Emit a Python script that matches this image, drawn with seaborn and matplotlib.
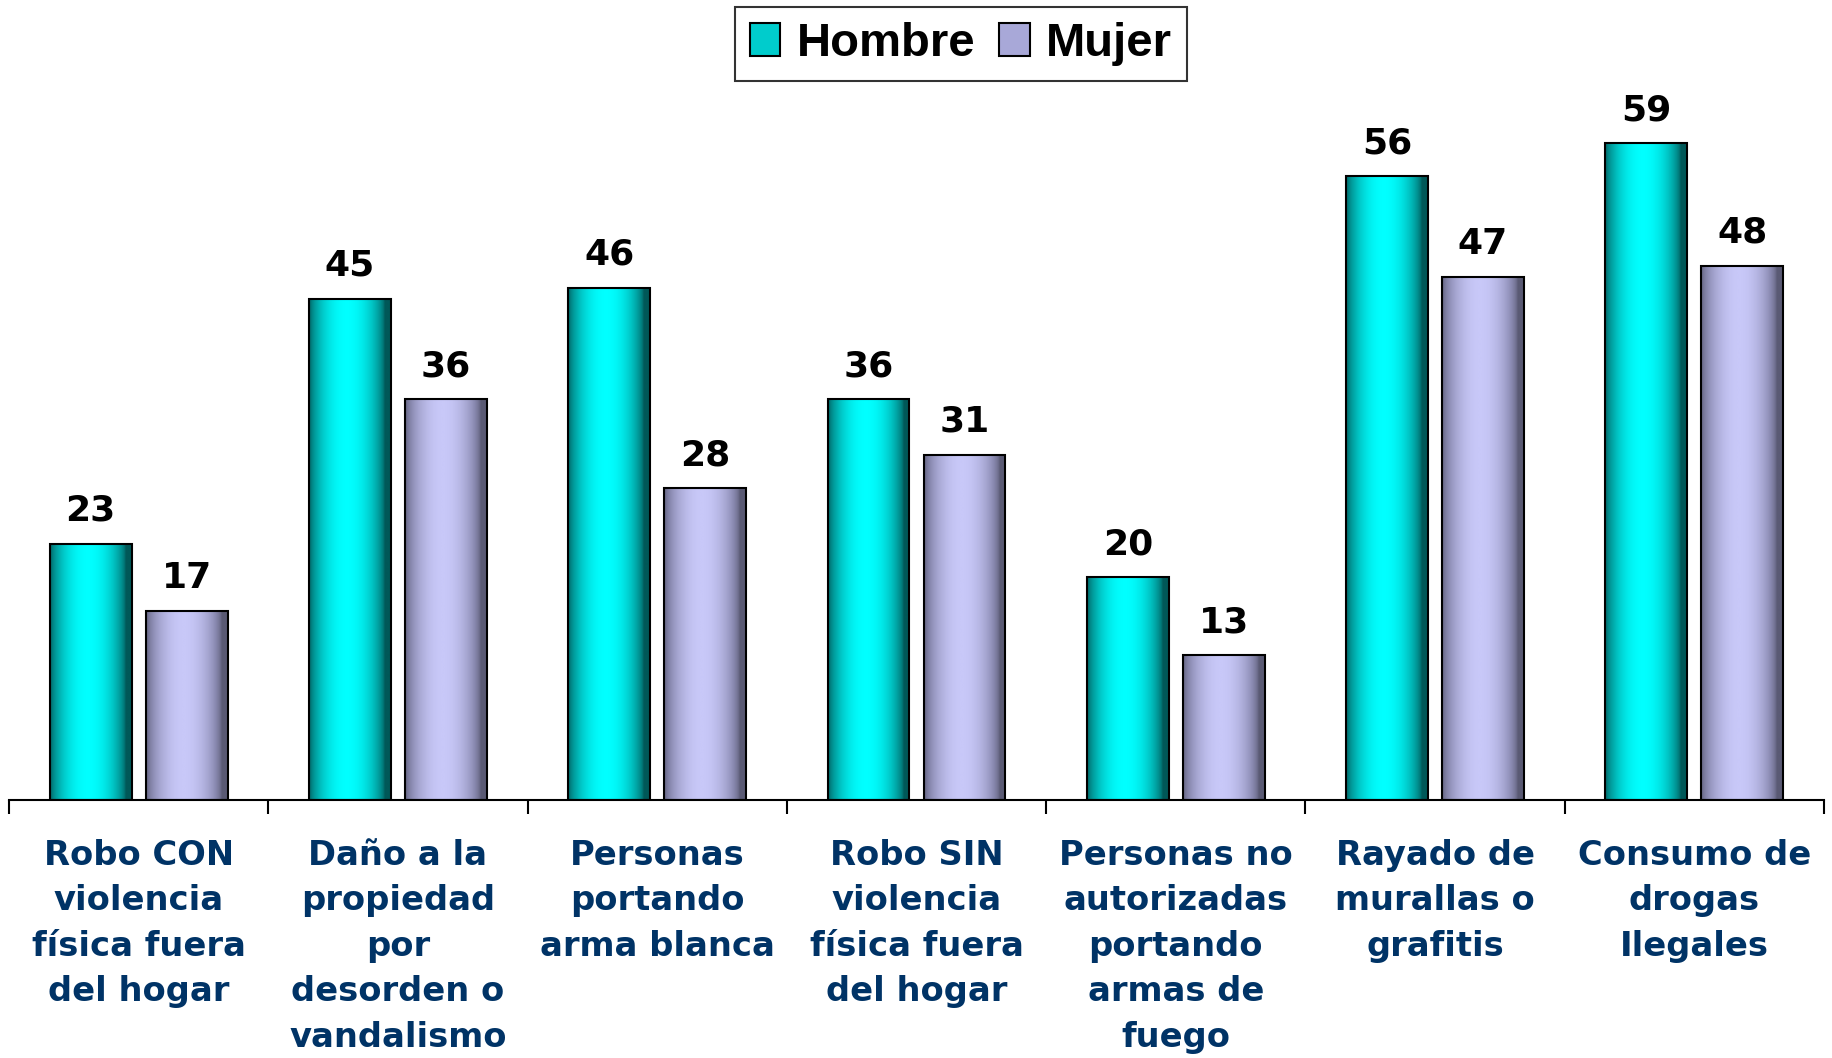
import numpy as np
import pandas as pd
import matplotlib
matplotlib.use("Agg")
import matplotlib.pyplot as plt
from matplotlib.colors import LinearSegmentedColormap
from matplotlib.patches import Patch
import seaborn as sns

# data
categorias = [
    "Robo CON\nviolencia\nfísica fuera\ndel hogar",
    "Daño a la\npropiedad\npor\ndesorden o\nvandalismo",
    "Personas\nportando\narma blanca",
    "Robo SIN\nviolencia\nfísica fuera\ndel hogar",
    "Personas no\nautorizadas\nportando\narmas de\nfuego",
    "Rayado de\nmurallas o\ngrafitis",
    "Consumo de\ndrogas\nIlegales",
]
hombre = [23, 45, 46, 36, 20, 56, 59]
mujer = [17, 36, 28, 31, 13, 47, 48]
series = ["Hombre", "Mujer"]

df = pd.DataFrame({
    "categoria": categorias * 2,
    "valor": hombre + mujer,
    "sexo": ["Hombre"] * len(categorias) + ["Mujer"] * len(categorias),
})

sns.set_style("white")
plt.rcParams["font.family"] = ["DejaVu Sans"]

W, H = 1833, 1058
fig = plt.figure(figsize=(W / 100, H / 100), dpi=100)
ymax = 70
base_px = 800
px_per_unit = 11.135
top_px = base_px - ymax * px_per_unit
ax = fig.add_axes([9 / W, 1 - base_px / H, (1824 - 9) / W, (base_px - top_px) / H])

colores = {"Hombre": "#00CCCC", "Mujer": "#A8A8D8"}
sns.barplot(data=df, x="categoria", y="valor", hue="sexo", palette=colores,
            width=0.74, gap=0.146, edgecolor="black", linewidth=1.5,
            legend=False, ax=ax, zorder=3)

# cylinder-like gradient fill for each bar
grad = {
    "Hombre": LinearSegmentedColormap.from_list("h", ["#005858", "#00A8A8", "#00FFFF"]),
    "Mujer": LinearSegmentedColormap.from_list("m", ["#5A5A74", "#9090B8", "#C8C8F8"]),
}
t = np.linspace(0, 1, 200)
perfil = np.sin(np.pi * np.clip(t * 1.08, 0, 1)) ** 0.6
perfil = perfil[np.newaxis, :]
for cont, nombre in zip(ax.containers, series):
    for rect in cont:
        x0, y0 = rect.get_x(), rect.get_y()
        w, h = rect.get_width(), rect.get_height()
        ax.imshow(perfil, extent=[x0, x0 + w, y0, y0 + h], aspect="auto",
                  cmap=grad[nombre], vmin=0, vmax=1, zorder=2, interpolation="bilinear")
        rect.set_facecolor("none")
    ax.bar_label(cont, fmt="{:.0f}", padding=11.5, fontsize=26, fontweight="bold", color="black")

ax.set_xlim(-0.5, len(categorias) - 0.5)
ax.set_ylim(0, ymax)
ax.set_xlabel("")
ax.set_ylabel("")
ax.set_yticks([])
for s in ["top", "right", "left"]:
    ax.spines[s].set_visible(False)
ax.spines["bottom"].set_linewidth(1.5)
ax.spines["bottom"].set_color("black")

ax.set_xticks(range(len(categorias)))
ax.set_xticklabels(categorias, fontsize=24.3, fontweight="bold", color="#003366",
                   linespacing=1.48)
ax.tick_params(axis="x", which="major", bottom=True, length=0, pad=28)
ax.set_xticks(np.arange(-0.5, len(categorias), 1), minor=True)
ax.tick_params(axis="x", which="minor", bottom=True, length=10, width=1.5,
               color="black", direction="out")

handles = [Patch(facecolor=colores[s], edgecolor="black", linewidth=1.5) for s in series]
leg = fig.legend(handles, series, loc="upper center", bbox_to_anchor=(961 / W, 1 - 7 / H),
                 ncol=2, frameon=True, fancybox=False, handlelength=0.65, handleheight=0.7,
                 handletextpad=0.35, columnspacing=0.5, borderpad=0.32, borderaxespad=0,
                 labelcolor="black",
                 prop={"family": "Liberation Sans", "weight": "bold", "size": 34})
leg.get_frame().set_edgecolor("black")
leg.get_frame().set_linewidth(1.5)

fig.savefig("out.png", dpi=100)
